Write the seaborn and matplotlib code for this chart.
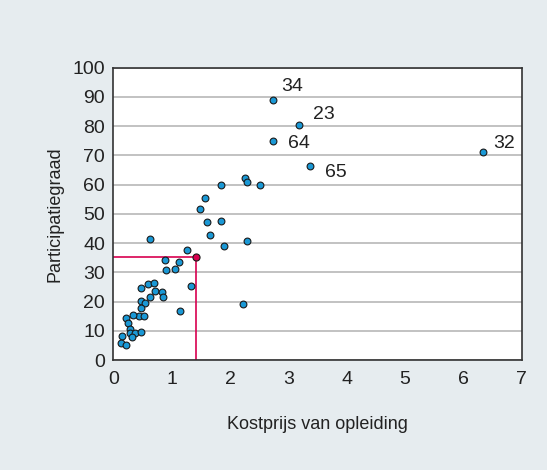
import pandas as pd
import matplotlib
matplotlib.use("Agg")
import matplotlib.pyplot as plt
import seaborn as sns

# ==================== data ====================
kostprijs = [2.73, 3.19, 2.74, 3.37, 6.33, 2.25, 2.30, 2.52, 1.84, 1.57,
             1.48, 1.61, 1.84, 1.65, 1.90, 2.30, 0.63, 1.26, 0.89, 1.12,
             0.91, 1.06, 1.34, 2.22, 1.15, 0.47, 0.59, 0.69, 0.71, 0.84,
             0.85, 0.63, 0.48, 0.55, 0.47, 0.45, 0.53, 0.34, 0.22, 0.26,
             0.29, 0.29, 0.37, 0.33, 0.47, 0.15, 0.14, 0.22]
participatie = [88.9, 80.5, 75.0, 66.2, 71.3, 62.4, 60.8, 60.0, 59.7, 55.3,
                51.7, 47.2, 47.7, 42.6, 38.9, 40.7, 41.5, 37.6, 34.3, 33.4,
                30.8, 31.0, 25.3, 19.3, 16.9, 24.5, 25.9, 26.2, 23.6, 23.3,
                21.6, 21.7, 20.1, 19.6, 17.7, 15.1, 15.1, 15.5, 14.4, 12.5,
                10.7, 9.4, 9.4, 7.8, 9.6, 8.3, 5.7, 5.1]

# labelled countries (index into the arrays above)
label_text = ["34", "23", "64", "65", "32"]
label_idx = [0, 1, 2, 3, 4]
label_offset = [(6.5, 9.5), (10, 7), (11, -2), (11, -4.5), (7.5, 6)]

# highlighted point
punt_x = 1.41
punt_y = 35.3

BG = "#e6ecef"
BLUE = "#1a98d5"
RED = "#d8004f"

# ==================== plot ====================
sns.set_style("white")
plt.rcParams["font.family"] = ["Liberation Sans", "DejaVu Sans"]

df = pd.DataFrame({"x": kostprijs, "y": participatie})

fig = plt.figure(figsize=(5.47, 4.70), dpi=100, facecolor=BG)
ax = fig.add_axes([0.207, 0.234, 0.747, 0.622])
ax.set_facecolor("white")

ax.set_axisbelow(True)
ax.yaxis.grid(True, color="#bdbdbd", linewidth=1.3)
ax.xaxis.grid(False)

# red reference lines
ax.plot([0, punt_x], [punt_y, punt_y], color=RED, linewidth=1.2, zorder=2)
ax.plot([punt_x, punt_x], [0, punt_y], color=RED, linewidth=1.2, zorder=2)

sns.scatterplot(data=df, x="x", y="y", ax=ax, color=BLUE, s=24,
                edgecolor="#1a1a1a", linewidth=0.8, zorder=3)
ax.scatter([punt_x], [punt_y], s=26, color=RED, edgecolor="#1a1a1a",
           linewidth=0.8, zorder=4)

for txt, i, off in zip(label_text, label_idx, label_offset):
    ax.annotate(txt, (kostprijs[i], participatie[i]), xytext=off,
                textcoords="offset points", fontsize=14, color="#222222",
                ha="left", va="center")

ax.set_xlim(0, 7)
ax.set_ylim(0, 100)
ax.set_xticks(range(0, 8))
ax.set_yticks(range(0, 101, 10))
ax.tick_params(axis="x", direction="in", length=7, width=1.2, color="#333333",
               labelsize=14, labelcolor="#222222", pad=8)
ax.tick_params(axis="y", length=0, labelsize=14, labelcolor="#222222", pad=6)

for sp in ax.spines.values():
    sp.set_color("#333333")
    sp.set_linewidth(1.2)
    sp.set_visible(True)

ax.set_xlabel("Kostprijs van opleiding", fontsize=13, color="#222222", labelpad=20)
ax.set_ylabel("Participatiegraad", fontsize=13, color="#222222", labelpad=6)

fig.savefig("out.png", dpi=100, facecolor=BG)
